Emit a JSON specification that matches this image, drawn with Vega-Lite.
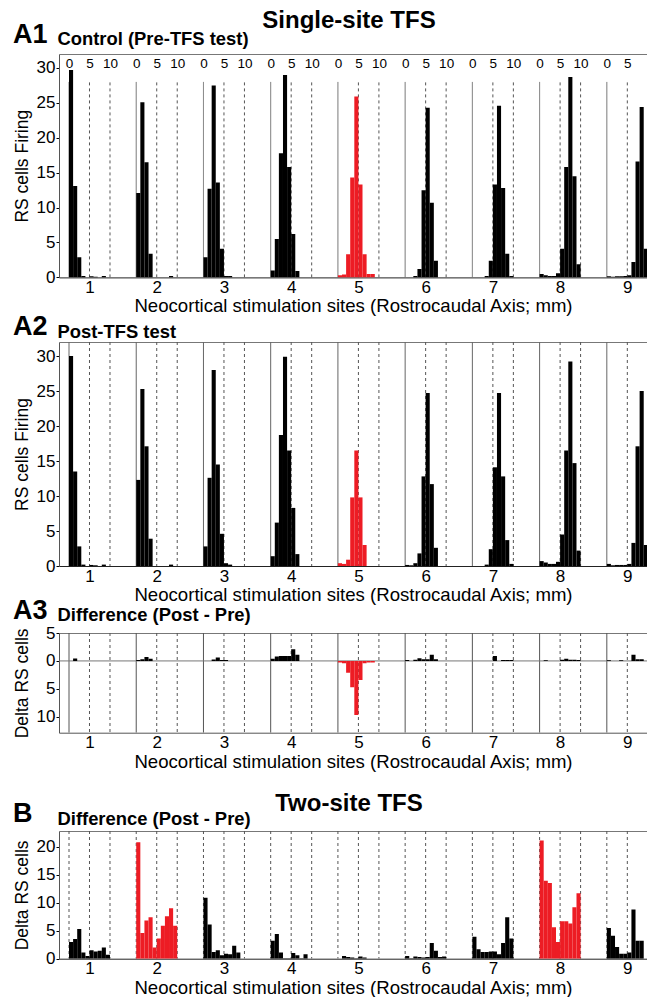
{
  "$schema": "https://vega.github.io/schema/vega-lite/v6.json",
  "padding": {"left": 13, "top": 8, "right": 0, "bottom": 0},
  "config": {
    "font": "Liberation Sans",
    "view": {"stroke": null},
    "axis": {"labelColor": "#000", "titleColor": "#000", "grid": false, "titleFontWeight": "normal"},
    "title": {"color": "#000"}
  },
  "datasets": {
    "grid": [
      {"site": 1, "t": 0}, {"site": 1, "t": 5}, {"site": 1, "t": 10},
      {"site": 2, "t": 0}, {"site": 2, "t": 5}, {"site": 2, "t": 10},
      {"site": 3, "t": 0}, {"site": 3, "t": 5}, {"site": 3, "t": 10},
      {"site": 4, "t": 0}, {"site": 4, "t": 5}, {"site": 4, "t": 10},
      {"site": 5, "t": 0}, {"site": 5, "t": 5}, {"site": 5, "t": 10},
      {"site": 6, "t": 0}, {"site": 6, "t": 5}, {"site": 6, "t": 10},
      {"site": 7, "t": 0}, {"site": 7, "t": 5}, {"site": 7, "t": 10},
      {"site": 8, "t": 0}, {"site": 8, "t": 5}, {"site": 8, "t": 10},
      {"site": 9, "t": 0}, {"site": 9, "t": 5}
    ],
    "pre": [
      {"site": 1, "t": 0, "n": 29.7}, {"site": 1, "t": 1, "n": 13.1}, {"site": 1, "t": 2, "n": 2.9}, {"site": 1, "t": 3, "n": 0.2}, {"site": 1, "t": 5, "n": 0.15}, {"site": 1, "t": 6, "n": 0.1}, {"site": 1, "t": 8, "n": 0.2},
      {"site": 2, "t": 0, "n": 12.1}, {"site": 2, "t": 1, "n": 25.1}, {"site": 2, "t": 2, "n": 16.5}, {"site": 2, "t": 3, "n": 3.4}, {"site": 2, "t": 8, "n": 0.2},
      {"site": 3, "t": 0, "n": 2.9}, {"site": 3, "t": 1, "n": 12.7}, {"site": 3, "t": 2, "n": 27.5}, {"site": 3, "t": 3, "n": 13.6}, {"site": 3, "t": 4, "n": 4.1}, {"site": 3, "t": 5, "n": 0.2}, {"site": 3, "t": 6, "n": 0.2},
      {"site": 4, "t": 0, "n": 1.0}, {"site": 4, "t": 1, "n": 5.5}, {"site": 4, "t": 2, "n": 17.8}, {"site": 4, "t": 3, "n": 29.0}, {"site": 4, "t": 4, "n": 15.8}, {"site": 4, "t": 5, "n": 6.2}, {"site": 4, "t": 6, "n": 0.9},
      {"site": 5, "t": 0, "n": 0.3}, {"site": 5, "t": 1, "n": 0.4}, {"site": 5, "t": 2, "n": 3.3}, {"site": 5, "t": 3, "n": 14.3}, {"site": 5, "t": 4, "n": 25.9}, {"site": 5, "t": 5, "n": 13.3}, {"site": 5, "t": 6, "n": 3.3}, {"site": 5, "t": 7, "n": 0.5}, {"site": 5, "t": 8, "n": 0.5},
      {"site": 6, "t": 2, "n": 0.2}, {"site": 6, "t": 3, "n": 1.2}, {"site": 6, "t": 4, "n": 12.5}, {"site": 6, "t": 5, "n": 24.3}, {"site": 6, "t": 6, "n": 10.7}, {"site": 6, "t": 7, "n": 2.4},
      {"site": 7, "t": 3, "n": 0.2}, {"site": 7, "t": 4, "n": 2.4}, {"site": 7, "t": 5, "n": 13.3}, {"site": 7, "t": 6, "n": 24.6}, {"site": 7, "t": 7, "n": 12.8}, {"site": 7, "t": 8, "n": 3.4}, {"site": 7, "t": 9, "n": 0.2},
      {"site": 8, "t": 0, "n": 0.5}, {"site": 8, "t": 1, "n": 0.3}, {"site": 8, "t": 2, "n": 0.2}, {"site": 8, "t": 3, "n": 0.2}, {"site": 8, "t": 4, "n": 0.6}, {"site": 8, "t": 5, "n": 4.1}, {"site": 8, "t": 6, "n": 15.8}, {"site": 8, "t": 7, "n": 28.7}, {"site": 8, "t": 8, "n": 14.5}, {"site": 8, "t": 9, "n": 1.9},
      {"site": 9, "t": 0, "n": 0.15}, {"site": 9, "t": 1, "n": 0.1}, {"site": 9, "t": 2, "n": 0.15}, {"site": 9, "t": 3, "n": 0.15}, {"site": 9, "t": 4, "n": 0.2}, {"site": 9, "t": 5, "n": 0.3}, {"site": 9, "t": 6, "n": 2.2}, {"site": 9, "t": 7, "n": 16.6}, {"site": 9, "t": 8, "n": 24.4}, {"site": 9, "t": 9, "n": 4.1}
    ],
    "post": [
      {"site": 1, "t": 0, "n": 30.0}, {"site": 1, "t": 1, "n": 13.5}, {"site": 1, "t": 2, "n": 2.8}, {"site": 1, "t": 3, "n": 0.2}, {"site": 1, "t": 5, "n": 0.15}, {"site": 1, "t": 6, "n": 0.1}, {"site": 1, "t": 8, "n": 0.2},
      {"site": 2, "t": 0, "n": 12.3}, {"site": 2, "t": 1, "n": 25.3}, {"site": 2, "t": 2, "n": 17.1}, {"site": 2, "t": 3, "n": 3.9}, {"site": 2, "t": 8, "n": 0.2},
      {"site": 3, "t": 0, "n": 2.8}, {"site": 3, "t": 1, "n": 12.6}, {"site": 3, "t": 2, "n": 28.0}, {"site": 3, "t": 3, "n": 14.5}, {"site": 3, "t": 4, "n": 4.6}, {"site": 3, "t": 5, "n": 0.4}, {"site": 3, "t": 6, "n": 0.2},
      {"site": 4, "t": 0, "n": 1.4}, {"site": 4, "t": 1, "n": 6.2}, {"site": 4, "t": 2, "n": 18.7}, {"site": 4, "t": 3, "n": 29.9}, {"site": 4, "t": 4, "n": 16.5}, {"site": 4, "t": 5, "n": 8.3}, {"site": 4, "t": 6, "n": 1.7},
      {"site": 5, "t": 0, "n": 0.4}, {"site": 5, "t": 1, "n": 0.3}, {"site": 5, "t": 2, "n": 0.9}, {"site": 5, "t": 3, "n": 9.8}, {"site": 5, "t": 4, "n": 16.5}, {"site": 5, "t": 5, "n": 9.8}, {"site": 5, "t": 6, "n": 3.0},
      {"site": 6, "t": 0, "n": 0.15}, {"site": 6, "t": 1, "n": 0.1}, {"site": 6, "t": 2, "n": 0.4}, {"site": 6, "t": 3, "n": 1.8}, {"site": 6, "t": 4, "n": 12.8}, {"site": 6, "t": 5, "n": 24.7}, {"site": 6, "t": 6, "n": 11.7}, {"site": 6, "t": 7, "n": 2.6},
      {"site": 7, "t": 3, "n": 0.2}, {"site": 7, "t": 4, "n": 2.4}, {"site": 7, "t": 5, "n": 14.1}, {"site": 7, "t": 6, "n": 24.7}, {"site": 7, "t": 7, "n": 12.8}, {"site": 7, "t": 8, "n": 3.7}, {"site": 7, "t": 9, "n": 0.3},
      {"site": 8, "t": 0, "n": 0.7}, {"site": 8, "t": 1, "n": 0.5}, {"site": 8, "t": 2, "n": 0.3}, {"site": 8, "t": 3, "n": 0.3}, {"site": 8, "t": 4, "n": 0.6}, {"site": 8, "t": 5, "n": 4.5}, {"site": 8, "t": 6, "n": 16.5}, {"site": 8, "t": 7, "n": 29.2}, {"site": 8, "t": 8, "n": 14.7}, {"site": 8, "t": 9, "n": 2.2},
      {"site": 9, "t": 0, "n": 0.3}, {"site": 9, "t": 1, "n": 0.1}, {"site": 9, "t": 2, "n": 0.15}, {"site": 9, "t": 3, "n": 0.15}, {"site": 9, "t": 4, "n": 0.15}, {"site": 9, "t": 5, "n": 0.3}, {"site": 9, "t": 6, "n": 3.3}, {"site": 9, "t": 7, "n": 17.1}, {"site": 9, "t": 8, "n": 25.0}, {"site": 9, "t": 9, "n": 3.0}
    ],
    "diff": [
      {"site": 1, "t": 1, "n": 0.45},
      {"site": 2, "t": 0, "n": 0.15}, {"site": 2, "t": 1, "n": 0.3}, {"site": 2, "t": 2, "n": 0.7}, {"site": 2, "t": 3, "n": 0.4},
      {"site": 3, "t": 2, "n": 0.25}, {"site": 3, "t": 3, "n": 0.6}, {"site": 3, "t": 4, "n": 0.15}, {"site": 3, "t": 5, "n": 0.15},
      {"site": 4, "t": 0, "n": 0.4}, {"site": 4, "t": 1, "n": 0.8}, {"site": 4, "t": 2, "n": 0.9}, {"site": 4, "t": 3, "n": 0.9}, {"site": 4, "t": 4, "n": 0.9}, {"site": 4, "t": 5, "n": 2.1}, {"site": 4, "t": 6, "n": 1.1},
      {"site": 5, "t": 0, "n": -0.3}, {"site": 5, "t": 1, "n": -0.4}, {"site": 5, "t": 2, "n": -2.1}, {"site": 5, "t": 3, "n": -4.7}, {"site": 5, "t": 4, "n": -9.7}, {"site": 5, "t": 5, "n": -3.4}, {"site": 5, "t": 6, "n": -0.4}, {"site": 5, "t": 7, "n": -0.3}, {"site": 5, "t": 8, "n": -0.3},
      {"site": 6, "t": 0, "n": 0.15}, {"site": 6, "t": 2, "n": 0.2}, {"site": 6, "t": 3, "n": 0.5}, {"site": 6, "t": 4, "n": 0.3}, {"site": 6, "t": 5, "n": 0.3}, {"site": 6, "t": 6, "n": 1.1}, {"site": 6, "t": 7, "n": 0.3},
      {"site": 7, "t": 5, "n": 0.9}, {"site": 7, "t": 7, "n": 0.15}, {"site": 7, "t": 8, "n": 0.15}, {"site": 7, "t": 9, "n": 0.15},
      {"site": 8, "t": 1, "n": 0.1}, {"site": 8, "t": 5, "n": 0.2}, {"site": 8, "t": 6, "n": 0.4}, {"site": 8, "t": 7, "n": 0.2}, {"site": 8, "t": 8, "n": 0.2}, {"site": 8, "t": 9, "n": 0.15},
      {"site": 9, "t": 0, "n": 0.1}, {"site": 9, "t": 3, "n": 0.1}, {"site": 9, "t": 6, "n": 1.1}, {"site": 9, "t": 7, "n": 0.3}, {"site": 9, "t": 8, "n": 0.3}
    ],
    "two": [
      {"site": 1, "t": 0, "n": 3.0}, {"site": 1, "t": 1, "n": 3.5}, {"site": 1, "t": 2, "n": 5.3}, {"site": 1, "t": 3, "n": 1.1}, {"site": 1, "t": 4, "n": 0.5}, {"site": 1, "t": 5, "n": 1.5}, {"site": 1, "t": 6, "n": 1.3}, {"site": 1, "t": 7, "n": 1.4}, {"site": 1, "t": 8, "n": 2.0}, {"site": 1, "t": 9, "n": 0.7},
      {"site": 2, "t": 0, "n": 20.8}, {"site": 2, "t": 1, "n": 4.6}, {"site": 2, "t": 2, "n": 6.8}, {"site": 2, "t": 3, "n": 7.4}, {"site": 2, "t": 4, "n": 2.0}, {"site": 2, "t": 5, "n": 3.6}, {"site": 2, "t": 6, "n": 5.9}, {"site": 2, "t": 7, "n": 7.6}, {"site": 2, "t": 8, "n": 9.0}, {"site": 2, "t": 9, "n": 5.9},
      {"site": 3, "t": 0, "n": 10.9}, {"site": 3, "t": 1, "n": 6.1}, {"site": 3, "t": 2, "n": 1.2}, {"site": 3, "t": 3, "n": 1.5}, {"site": 3, "t": 4, "n": 0.6}, {"site": 3, "t": 5, "n": 0.9}, {"site": 3, "t": 6, "n": 0.8}, {"site": 3, "t": 7, "n": 2.3}, {"site": 3, "t": 8, "n": 1.1},
      {"site": 4, "t": 0, "n": 3.2}, {"site": 4, "t": 1, "n": 4.4}, {"site": 4, "t": 2, "n": 1.1}, {"site": 4, "t": 3, "n": 0.1}, {"site": 4, "t": 4, "n": 0.1}, {"site": 4, "t": 5, "n": 1.0}, {"site": 4, "t": 6, "n": 0.6}, {"site": 4, "t": 7, "n": 0.1}, {"site": 4, "t": 8, "n": 0.8},
      {"site": 5, "t": 1, "n": 0.5}, {"site": 5, "t": 2, "n": 0.3}, {"site": 5, "t": 3, "n": 0.2}, {"site": 5, "t": 4, "n": 0.1}, {"site": 5, "t": 5, "n": 0.4}, {"site": 5, "t": 6, "n": 0.2},
      {"site": 6, "t": 0, "n": 0.5}, {"site": 6, "t": 1, "n": 0.1}, {"site": 6, "t": 2, "n": 0.4}, {"site": 6, "t": 3, "n": 0.3}, {"site": 6, "t": 4, "n": 0.2}, {"site": 6, "t": 5, "n": 0.3}, {"site": 6, "t": 6, "n": 2.8}, {"site": 6, "t": 7, "n": 1.4}, {"site": 6, "t": 8, "n": 0.3}, {"site": 6, "t": 9, "n": 0.4},
      {"site": 7, "t": 0, "n": 3.9}, {"site": 7, "t": 1, "n": 1.7}, {"site": 7, "t": 2, "n": 1.2}, {"site": 7, "t": 3, "n": 1.2}, {"site": 7, "t": 4, "n": 1.3}, {"site": 7, "t": 5, "n": 1.3}, {"site": 7, "t": 6, "n": 0.8}, {"site": 7, "t": 7, "n": 2.8}, {"site": 7, "t": 8, "n": 7.4}, {"site": 7, "t": 9, "n": 3.6},
      {"site": 8, "t": 0, "n": 21.1}, {"site": 8, "t": 1, "n": 13.9}, {"site": 8, "t": 2, "n": 13.5}, {"site": 8, "t": 3, "n": 5.6}, {"site": 8, "t": 4, "n": 3.0}, {"site": 8, "t": 5, "n": 6.7}, {"site": 8, "t": 6, "n": 6.7}, {"site": 8, "t": 7, "n": 6.3}, {"site": 8, "t": 8, "n": 9.2}, {"site": 8, "t": 9, "n": 11.7},
      {"site": 9, "t": 0, "n": 5.5}, {"site": 9, "t": 1, "n": 4.1}, {"site": 9, "t": 2, "n": 2.1}, {"site": 9, "t": 3, "n": 0.9}, {"site": 9, "t": 4, "n": 0.9}, {"site": 9, "t": 5, "n": 1.1}, {"site": 9, "t": 6, "n": 8.8}, {"site": 9, "t": 7, "n": 3.2}, {"site": 9, "t": 8, "n": 3.2}
    ]
  },
  "title": {"text": "Single-site TFS", "anchor": "middle", "frame": "group", "dx": -4, "offset": -31, "fontSize": 24, "fontWeight": "bold", "baseline": "alphabetic"},
  "bounds": "flush",
  "spacing": 0,
  "vconcat": [
    {
      "width": 588, "height": 223.4,
      "title": {"text": "A1", "anchor": "start", "frame": "group", "dx": -46, "offset": -40, "fontSize": 27, "fontWeight": "bold", "baseline": "alphabetic"},
      "layer": [
        {
          "data": {"name": "grid"},
          "transform": [{"calculate": "(datum.site - 1) * 16.4 + datum.t", "as": "pos"}],
          "mark": {"type": "rule", "clip": true, "strokeWidth": 1},
          "encoding": {
            "x": {"field": "pos", "type": "quantitative", "scale": {"domain": [-2.44, 141], "nice": false, "zero": false},
              "axis": {"orient": "top", "values": [0, 5, 10, 16.4, 21.4, 26.4, 32.8, 37.8, 42.8, 49.2, 54.2, 59.2, 65.6, 70.6, 75.6, 82, 87, 92, 98.4, 103.4, 108.4, 114.8, 119.8, 124.8, 131.2, 136.2],
                "labelExpr": "'' + round(datum.value - 16.4 * floor((datum.value + 1) / 16.4))",
                "ticks": false, "domain": true, "domainColor": "#777", "labelFontSize": 13.5, "labelPadding": -13, "labelBaseline": "alphabetic", "labelFlush": false, "labelOverlap": false,
                "title": "Control (Pre-TFS test)", "titleFontSize": 18.4, "titleFontWeight": "bold", "titleAnchor": "start", "titleAlign": "left", "titleBaseline": "alphabetic", "titleX": -2, "titleY": -9.3}},
            "y": {"datum": 0, "scale": {"domain": [0, 32], "nice": false},
              "axis": {"title": "RS cells Firing", "values": [0, 5, 10, 15, 20, 25, 30], "labelFontSize": 17, "titleFontSize": 17.5, "tickSize": 3, "tickColor": "#000", "domainColor": "#555", "labelPadding": 1, "titlePadding": 5}},
            "y2": {"datum": 28},
            "strokeDash": {"condition": {"test": "datum.t == 0", "value": [1, 0]}, "value": [3, 3]},
            "color": {"condition": {"test": "datum.t == 0", "value": "#666"}, "value": "#555"}
          }
        },
        {
          "data": {"name": "pre"},
          "transform": [{"calculate": "(datum.site - 1) * 16.4 + datum.t", "as": "pos"}, {"calculate": "datum.pos + 1", "as": "pos2"}],
          "mark": {"type": "bar", "clip": true},
          "encoding": {
            "x": {"field": "pos", "type": "quantitative", "scale": {"domain": [-2.44, 141], "nice": false, "zero": false},
              "axis": {"orient": "bottom", "values": [5, 21.4, 37.8, 54.2, 70.6, 87, 103.4, 119.8, 136.2], "labelExpr": "'' + (floor(datum.value / 16.4) + 1)",
                "ticks": false, "domainColor": "#222", "labelFontSize": 17, "labelPadding": 2, "labelFlush": false,
                "title": "Neocortical stimulation sites (Rostrocaudal Axis; mm)", "titleFontSize": 18.6, "titlePadding": 1.5}},
            "x2": {"field": "pos2"},
            "y": {"field": "n", "type": "quantitative", "scale": {"domain": [0, 32], "nice": false},
              "axis": {"title": "RS cells Firing", "values": [0, 5, 10, 15, 20, 25, 30], "labelFontSize": 17, "titleFontSize": 17.5, "tickSize": 3, "tickColor": "#000", "domainColor": "#555", "labelPadding": 1, "titlePadding": 5}},
            "y2": {"datum": 0},
            "color": {"condition": {"test": "datum.site == 5", "value": "#ed1c24"}, "value": "#000"}
          }
        }
      ],
      "resolve": {"axis": {"x": "independent"}}
    },
    {"width": 588, "height": 63.3, "data": {"values": []}, "mark": "point", "encoding": {}},
    {
      "width": 588, "height": 224,
      "title": {"text": "A2", "anchor": "start", "frame": "group", "dx": -46, "offset": -40, "fontSize": 27, "fontWeight": "bold", "baseline": "alphabetic"},
      "layer": [
        {
          "data": {"name": "grid"},
          "transform": [{"calculate": "(datum.site - 1) * 16.4 + datum.t", "as": "pos"}],
          "mark": {"type": "rule", "clip": true, "strokeWidth": 1},
          "encoding": {
            "x": {"field": "pos", "type": "quantitative", "scale": {"domain": [-2.44, 141], "nice": false, "zero": false},
              "axis": {"orient": "top", "labels": false, "ticks": false, "domain": true, "domainColor": "#777",
                "title": "Post-TFS test", "titleFontSize": 18.4, "titleFontWeight": "bold", "titleAnchor": "start", "titleAlign": "left", "titleBaseline": "alphabetic", "titleX": -2, "titleY": -5}},
            "strokeDash": {"condition": {"test": "datum.t == 0", "value": [1, 0]}, "value": [3, 3]},
            "color": {"condition": {"test": "datum.t == 0", "value": "#666"}, "value": "#555"}
          }
        },
        {
          "data": {"name": "post"},
          "transform": [{"calculate": "(datum.site - 1) * 16.4 + datum.t", "as": "pos"}, {"calculate": "datum.pos + 1", "as": "pos2"}],
          "mark": {"type": "bar", "clip": true},
          "encoding": {
            "x": {"field": "pos", "type": "quantitative", "scale": {"domain": [-2.44, 141], "nice": false, "zero": false},
              "axis": {"orient": "bottom", "values": [5, 21.4, 37.8, 54.2, 70.6, 87, 103.4, 119.8, 136.2], "labelExpr": "'' + (floor(datum.value / 16.4) + 1)",
                "ticks": false, "domainColor": "#222", "labelFontSize": 17, "labelPadding": 2, "labelFlush": false,
                "title": "Neocortical stimulation sites (Rostrocaudal Axis; mm)", "titleFontSize": 18.6, "titlePadding": 1.5}},
            "x2": {"field": "pos2"},
            "y": {"field": "n", "type": "quantitative", "scale": {"domain": [0, 32], "nice": false},
              "axis": {"title": "RS cells Firing", "values": [0, 5, 10, 15, 20, 25, 30], "labelFontSize": 17, "titleFontSize": 17.5, "tickSize": 3, "tickColor": "#000", "domainColor": "#555", "labelPadding": 1, "titlePadding": 5}},
            "y2": {"datum": 0},
            "color": {"condition": {"test": "datum.site == 5", "value": "#ed1c24"}, "value": "#000"}
          }
        }
      ],
      "resolve": {"axis": {"x": "independent"}}
    },
    {"width": 588, "height": 67, "data": {"values": []}, "mark": "point", "encoding": {}},
    {
      "width": 588, "height": 99.7,
      "title": {"text": "A3", "anchor": "start", "frame": "group", "dx": -46, "offset": -40, "fontSize": 27, "fontWeight": "bold", "baseline": "alphabetic"},
      "layer": [
        {
          "data": {"name": "grid"},
          "transform": [{"calculate": "(datum.site - 1) * 16.4 + datum.t", "as": "pos"}],
          "mark": {"type": "rule", "clip": true, "strokeWidth": 1},
          "encoding": {
            "x": {"field": "pos", "type": "quantitative", "scale": {"domain": [-2.44, 141], "nice": false, "zero": false},
              "axis": {"orient": "top", "labels": false, "ticks": false, "domain": true, "domainColor": "#777",
                "title": "Difference (Post - Pre)", "titleFontSize": 18.4, "titleFontWeight": "bold", "titleAnchor": "start", "titleAlign": "left", "titleBaseline": "alphabetic", "titleX": -2, "titleY": -12.5}},
            "strokeDash": {"condition": {"test": "datum.t == 0", "value": [1, 0]}, "value": [3, 3]},
            "color": {"value": "#555"}
          }
        },
        {
          "data": {"values": [{}]},
          "mark": {"type": "rule", "color": "#777", "strokeWidth": 1},
          "encoding": {
            "y": {"datum": 0, "scale": {"domain": [-12.85, 5], "nice": false, "zero": false},
              "axis": {"title": "Delta RS cells", "values": [-10, -5, 0, 5], "labelExpr": "'' + abs(datum.value)", "labelFontSize": 17, "titleFontSize": 17.5, "tickSize": 3, "tickColor": "#000", "domainColor": "#555", "labelPadding": 1, "titlePadding": 5}}
          }
        },
        {
          "data": {"name": "diff"},
          "transform": [{"calculate": "(datum.site - 1) * 16.4 + datum.t", "as": "pos"}, {"calculate": "datum.pos + 1", "as": "pos2"}],
          "mark": {"type": "bar", "clip": true},
          "encoding": {
            "x": {"field": "pos", "type": "quantitative", "scale": {"domain": [-2.44, 141], "nice": false, "zero": false},
              "axis": {"orient": "bottom", "values": [5, 21.4, 37.8, 54.2, 70.6, 87, 103.4, 119.8, 136.2], "labelExpr": "'' + (floor(datum.value / 16.4) + 1)",
                "ticks": false, "domainColor": "#555", "labelFontSize": 17, "labelPadding": 2, "labelFlush": false,
                "title": "Neocortical stimulation sites (Rostrocaudal Axis; mm)", "titleFontSize": 18.6, "titlePadding": 1.5}},
            "x2": {"field": "pos2"},
            "y": {"field": "n", "type": "quantitative", "scale": {"domain": [-12.85, 5], "nice": false, "zero": false},
              "axis": {"title": "Delta RS cells", "values": [-10, -5, 0, 5], "labelExpr": "'' + abs(datum.value)", "labelFontSize": 17, "titleFontSize": 17.5, "tickSize": 3, "tickColor": "#000", "domainColor": "#555", "labelPadding": 1, "titlePadding": 5}},
            "y2": {"datum": 0},
            "color": {"condition": {"test": "datum.site == 5", "value": "#ed1c24"}, "value": "#000"}
          }
        }
      ],
      "resolve": {"axis": {"x": "independent"}}
    },
    {"width": 588, "height": 97.6, "data": {"values": []}, "mark": "point", "encoding": {},
      "title": {"text": "Two-site TFS", "anchor": "middle", "frame": "group", "dx": -4, "offset": -101.5, "fontSize": 24, "fontWeight": "bold", "baseline": "alphabetic"}},
    {
      "width": 588, "height": 127.7,
      "title": {"text": "B", "anchor": "start", "frame": "group", "dx": -46, "offset": -40, "fontSize": 27, "fontWeight": "bold", "baseline": "alphabetic"},
      "layer": [
        {
          "data": {"name": "grid"},
          "transform": [{"calculate": "(datum.site - 1) * 16.4 + datum.t", "as": "pos"}],
          "mark": {"type": "rule", "clip": true, "strokeWidth": 1, "color": "#555", "strokeDash": [3, 3]},
          "encoding": {
            "x": {"field": "pos", "type": "quantitative", "scale": {"domain": [-2.44, 141], "nice": false, "zero": false},
              "axis": {"orient": "top", "labels": false, "ticks": false, "domain": true, "domainColor": "#777",
                "title": "Difference (Post - Pre)", "titleFontSize": 18.4, "titleFontWeight": "bold", "titleAnchor": "start", "titleAlign": "left", "titleBaseline": "alphabetic", "titleX": -2, "titleY": -7}}
          }
        },
        {
          "data": {"name": "two"},
          "transform": [{"calculate": "(datum.site - 1) * 16.4 + datum.t", "as": "pos"}, {"calculate": "datum.pos + 1", "as": "pos2"}],
          "mark": {"type": "bar", "clip": true},
          "encoding": {
            "x": {"field": "pos", "type": "quantitative", "scale": {"domain": [-2.44, 141], "nice": false, "zero": false},
              "axis": {"orient": "bottom", "values": [5, 21.4, 37.8, 54.2, 70.6, 87, 103.4, 119.8, 136.2], "labelExpr": "'' + (floor(datum.value / 16.4) + 1)",
                "ticks": false, "domainColor": "#222", "labelFontSize": 17, "labelPadding": 2, "labelFlush": false,
                "title": "Neocortical stimulation sites (Rostrocaudal Axis; mm)", "titleFontSize": 18.6, "titlePadding": 1.5}},
            "x2": {"field": "pos2"},
            "y": {"field": "n", "type": "quantitative", "scale": {"domain": [0, 22.8], "nice": false},
              "axis": {"title": "Delta RS cells", "values": [0, 5, 10, 15, 20], "labelFontSize": 17, "titleFontSize": 17.5, "tickSize": 3, "tickColor": "#000", "domainColor": "#555", "labelPadding": 1, "titlePadding": 5}},
            "y2": {"datum": 0},
            "color": {"condition": {"test": "datum.site == 2 || datum.site == 8", "value": "#ed1c24"}, "value": "#000"}
          }
        }
      ],
      "resolve": {"axis": {"x": "independent"}}
    }
  ]
}
